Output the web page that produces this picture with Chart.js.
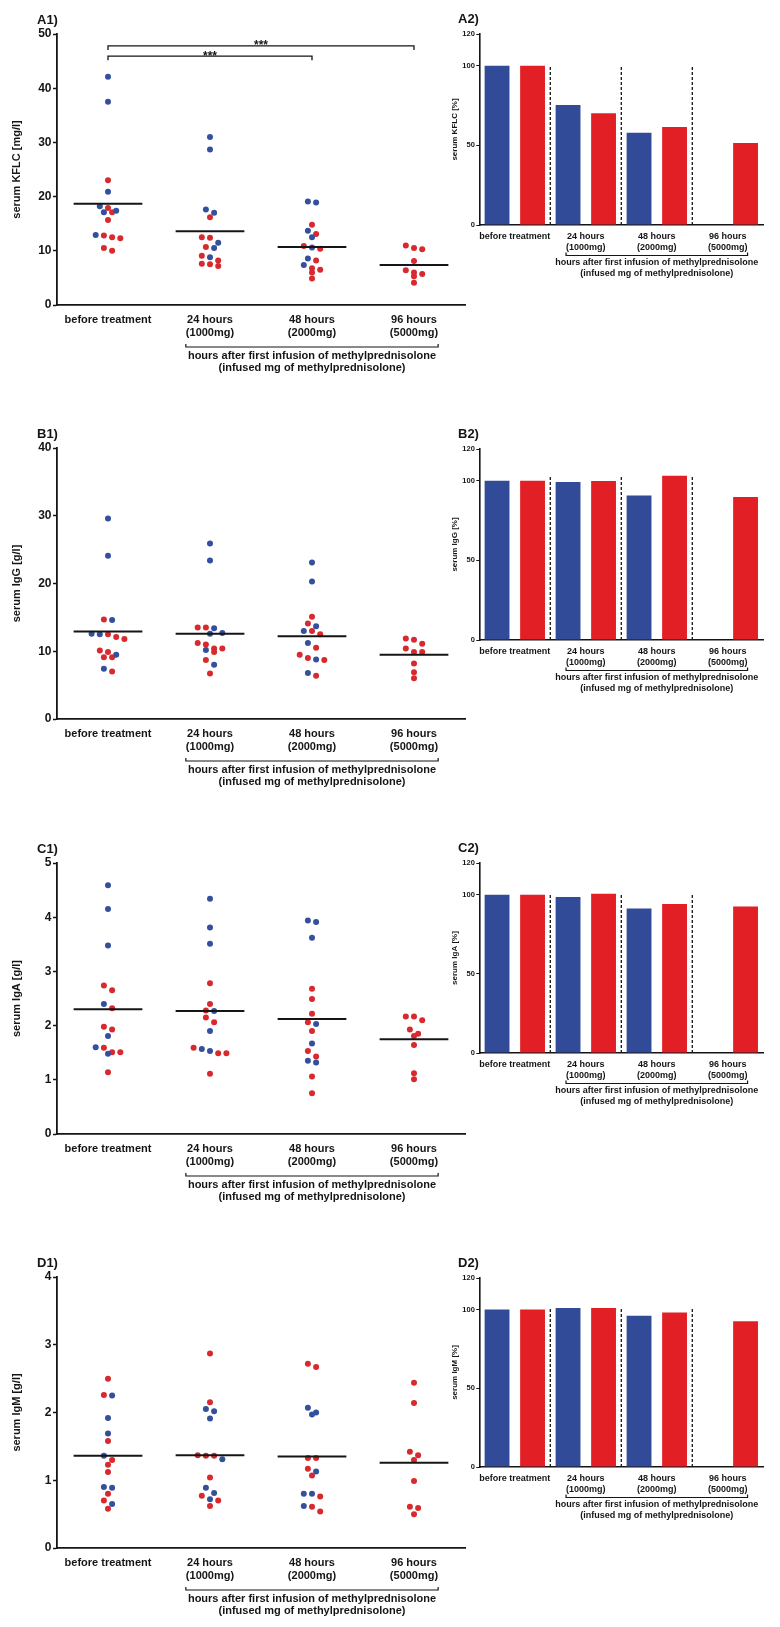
<!DOCTYPE html>
<html><head><meta charset="utf-8">
<script src="https://cdn.jsdelivr.net/npm/chart.js@4.4.0/dist/chart.umd.min.js"></script>
<style>
html,body{margin:0;padding:0;background:#fff;width:780px;height:1627px;overflow:hidden;position:relative}
canvas{position:absolute}
</style></head><body>
<script>
// ---------- DATA ----------
const categories = [['before treatment'], ['24 hours', '(1000mg)'], ['48 hours', '(2000mg)'], ['96 hours', '(5000mg)']];
const groupLine1 = 'hours after first infusion of methylprednisolone';
const groupLine2 = '(infused mg of methylprednisolone)';

// serum KFLC [mg/l]
const kflcBlue = [[42.1, 37.5, 20.9, 18.2, 17.4, 17.1, 12.9], [31.0, 28.7, 17.6, 17.0, 11.5, 10.5, 8.8], [19.1, 18.9, 13.7, 12.5, 10.6, 8.6, 7.4], []];
const kflcRed  = [[23.0, 17.9, 17.1, 15.7, 12.8, 12.5, 12.3, 10.5, 10.0], [16.2, 12.5, 12.4, 10.7, 9.1, 8.2, 7.6, 7.5, 7.2], [14.8, 13.1, 10.9, 10.4, 8.2, 6.8, 6.5, 6.0, 4.9], [11.0, 10.5, 10.3, 8.1, 6.4, 6.0, 5.7, 5.3, 4.1]];
const kflcMean = [18.7, 13.6, 10.7, 7.4];
const kflcTicks = [0, 10, 20, 30, 40, 50];
const kflcSig = [{from: 0, to: 2, y: 45.9, text: '***'}, {from: 0, to: 3, y: 47.8, text: '***'}];

// serum IgG [g/l]
const iggBlue = [[29.6, 24.1, 14.6, 12.6, 12.5, 9.5, 7.4], [25.9, 23.4, 13.4, 12.7, 12.6, 10.2, 8.0], [23.1, 20.3, 13.7, 13.0, 11.2, 8.8, 6.8], []];
const iggRed  = [[14.7, 12.5, 12.1, 11.8, 10.1, 9.9, 9.1, 9.1, 7.0], [13.5, 13.5, 11.2, 11.0, 10.4, 10.4, 9.9, 8.7, 6.7], [15.1, 14.1, 13.0, 12.5, 10.5, 9.5, 9.0, 8.7, 6.4], [11.9, 11.7, 11.1, 10.4, 9.9, 9.9, 8.2, 6.9, 6.0]];
const iggMean = [12.9, 12.6, 12.2, 9.5];
const iggTicks = [0, 10, 20, 30, 40];

// serum IgA [g/l]
const igaBlue = [[4.59, 4.15, 3.48, 2.40, 1.81, 1.60, 1.48], [4.34, 3.81, 3.51, 2.27, 1.90, 1.57, 1.53], [3.94, 3.91, 3.62, 2.03, 1.67, 1.35, 1.32], []];
const igaRed  = [[2.74, 2.65, 2.32, 1.98, 1.93, 1.59, 1.51, 1.51, 1.14], [2.78, 2.40, 2.28, 2.15, 2.06, 1.59, 1.49, 1.49, 1.11], [2.68, 2.49, 2.22, 2.06, 1.90, 1.53, 1.43, 1.06, 0.75], [2.17, 2.17, 2.10, 1.93, 1.85, 1.81, 1.64, 1.12, 1.01]];
const igaMean = [2.30, 2.27, 2.12, 1.75];
const igaTicks = [0, 1, 2, 3, 4, 5];

// serum IgM [g/l]
const igmBlue = [[2.25, 1.92, 1.69, 1.36, 0.90, 0.89, 0.65], [2.05, 2.02, 1.91, 1.31, 0.89, 0.81, 0.72], [2.07, 2.00, 1.97, 1.13, 0.80, 0.80, 0.62], []];
const igmRed  = [[2.50, 2.26, 1.58, 1.30, 1.23, 1.12, 0.80, 0.70, 0.58], [2.87, 2.15, 1.37, 1.36, 1.36, 1.04, 0.77, 0.70, 0.62], [2.72, 2.67, 1.33, 1.33, 1.17, 1.07, 0.76, 0.61, 0.54], [2.44, 2.14, 1.42, 1.37, 1.30, 0.99, 0.61, 0.59, 0.50]];
const igmMean = [1.36, 1.37, 1.35, 1.26];
const igmTicks = [0, 1, 2, 3, 4];

// percentage of baseline
const kflcPctBlue = [100, 75.4, 58.0, null];
const kflcPctRed  = [100, 70.2, 61.6, 51.5];
const iggPctBlue  = [100, 99.2, 90.8, null];
const iggPctRed   = [100, 99.9, 103.2, 89.8];
const igaPctBlue  = [100, 98.5, 91.2, null];
const igaPctRed   = [100, 100.6, 94.1, 92.6];
const igmPctBlue  = [100, 101.0, 96.0, null];
const igmPctRed   = [100, 101.0, 98.1, 92.6];
const pctTicks = [0, 50, 100, 120];

// ---------- STYLE / LAYOUT ----------
const FONT = "'Liberation Sans', Arial, Helvetica, sans-serif";
const BLUE_DOT = '#34509d', RED_DOT = '#d8292f';
const BLUE_BAR = '#324b99', RED_BAR = '#e31f26';
const INK = '#151515';
Chart.defaults.font.family = FONT;
Chart.defaults.color = INK;

const scatterPanels = [
  {label: 'A1)', title: 'serum KFLC [mg/l]', blue: kflcBlue, red: kflcRed, mean: kflcMean, ticks: kflcTicks, sig: kflcSig, top: 34, bottom: 305},
  {label: 'B1)', title: 'serum IgG [g/l]', blue: iggBlue, red: iggRed, mean: iggMean, ticks: iggTicks, sig: [], top: 448, bottom: 719},
  {label: 'C1)', title: 'serum IgA [g/l]', blue: igaBlue, red: igaRed, mean: igaMean, ticks: igaTicks, sig: [], top: 863, bottom: 1134},
  {label: 'D1)', title: 'serum IgM [g/l]', blue: igmBlue, red: igmRed, mean: igmMean, ticks: igmTicks, sig: [], top: 1277, bottom: 1548}
];
const barPanels = [
  {label: 'A2)', title: 'serum KFLC [%]', blue: kflcPctBlue, red: kflcPctRed, top: 34, bottom: 225},
  {label: 'B2)', title: 'serum IgG [%]', blue: iggPctBlue, red: iggPctRed, top: 449, bottom: 640},
  {label: 'C2)', title: 'serum IgA [%]', blue: igaPctBlue, red: igaPctRed, top: 863, bottom: 1053},
  {label: 'D2)', title: 'serum IgM [%]', blue: igmPctBlue, red: igmPctRed, top: 1278, bottom: 1467}
];

// ---------- DECORATION PLUGIN ----------
const decoPlugin = {
  id: 'deco',
  afterDraw(chart, args, o) {
    const ctx = chart.ctx, xs = chart.scales.x, ys = chart.scales.y, ca = chart.chartArea;
    ctx.save();
    ctx.fillStyle = INK; ctx.strokeStyle = INK;
    // panel label
    ctx.font = 'bold 13px ' + FONT; ctx.textAlign = 'left'; ctx.textBaseline = 'middle';
    ctx.fillText(o.label, o.labelX, ca.top - o.labelDy);
    // y title
    ctx.save();
    ctx.translate(o.titleX, (ca.top + ca.bottom) / 2); ctx.rotate(-Math.PI / 2);
    ctx.font = o.titleFont; ctx.textAlign = 'center'; ctx.textBaseline = 'middle';
    ctx.fillText(o.title, 0, 0);
    ctx.restore();
    // mean lines
    if (o.means) {
      ctx.lineWidth = 2;
      o.means.forEach((m, i) => {
        const y = ys.getPixelForValue(m);
        ctx.beginPath(); ctx.moveTo(xs.getPixelForValue(i - 0.337), y); ctx.lineTo(xs.getPixelForValue(i + 0.337), y); ctx.stroke();
      });
    }
    // dashed separators between groups
    if (o.sepTop) {
      ctx.save(); ctx.setLineDash([3, 2]); ctx.lineWidth = 1.3;
      for (let i = 1; i < categories.length; i++) {
        const x = (xs.getPixelForValue(i - 1) + xs.getPixelForValue(i)) / 2;
        ctx.beginPath(); ctx.moveTo(x, ys.getPixelForValue(0)); ctx.lineTo(x, ys.getPixelForValue(o.sepTop)); ctx.stroke();
      }
      ctx.restore();
    }
    // significance brackets
    (o.sig || []).forEach(s => {
      const x1 = xs.getPixelForValue(s.from), x2 = xs.getPixelForValue(s.to), y = ys.getPixelForValue(s.y);
      ctx.lineWidth = 1.3;
      ctx.beginPath(); ctx.moveTo(x1, y + 4); ctx.lineTo(x1, y); ctx.lineTo(x2, y); ctx.lineTo(x2, y + 4); ctx.stroke();
      ctx.font = 'bold 12px ' + FONT; ctx.textAlign = 'center'; ctx.textBaseline = 'alphabetic';
      ctx.fillText(s.text, (x1 + x2) / 2, y + 3.4);
    });
    // group bracket under 24/48/96 h
    ctx.font = o.catFont;
    const x1 = xs.getPixelForValue(1) - ctx.measureText(categories[1][1]).width / 2;
    const x3 = xs.getPixelForValue(3) + ctx.measureText(categories[3][1]).width / 2;
    const by = ca.bottom + o.bracketDy;
    ctx.lineWidth = 1.2;
    ctx.beginPath(); ctx.moveTo(x1, by - 3); ctx.lineTo(x1, by); ctx.lineTo(x3, by); ctx.lineTo(x3, by - 3); ctx.stroke();
    ctx.textAlign = 'center'; ctx.textBaseline = 'middle';
    ctx.fillText(groupLine1, (x1 + x3) / 2, ca.bottom + o.line1Dy);
    ctx.fillText(groupLine2, (x1 + x3) / 2, ca.bottom + o.line2Dy);
    ctx.restore();
  }
};

// ---------- BEESWARM (computed from values via the chart scales) ----------
function applySwarm(chart, blue, red) {
  const xs = chart.scales.x, ys = chart.scales.y;
  const pxPerCat = xs.getPixelForValue(1) - xs.getPixelForValue(0);
  const stepPx = 8.2, binPx = 5.5;
  const blueOut = [], redOut = [];
  for (let i = 0; i < categories.length; i++) {
    const pts = blue[i].map(v => ({v, c: 0})).concat(red[i].map(v => ({v, c: 1})));
    pts.sort((a, b) => b.v - a.v);
    const rows = []; let cur = null;
    for (const p of pts) {
      const py = ys.getPixelForValue(p.v);
      if (cur && py - cur.y0 < binPx) cur.items.push(p);
      else { cur = {y0: py, items: [p]}; rows.push(cur); }
    }
    rows.forEach(r => {
      const n = r.items.length;
      r.items.forEach((p, k) => {
        const off = (k - (n - 1) / 2) * stepPx / pxPerCat;
        (p.c ? redOut : blueOut).push({x: i + off, y: p.v});
      });
    });
  }
  chart.data.datasets[0].data = blueOut;
  chart.data.datasets[1].data = redOut;
  chart.update('none');
}

function makeCanvas(left, top, w, h) {
  const cv = document.createElement('canvas');
  cv.width = w; cv.height = h;
  cv.style.left = left + 'px'; cv.style.top = top + 'px';
  cv.style.width = w + 'px'; cv.style.height = h + 'px';
  document.body.appendChild(cv);
  return cv;
}

// ---------- SCATTER PANELS ----------
scatterPanels.forEach(p => {
  const W = 470, H = 400, PADTOP = 34;
  const cv = makeCanvas(0, p.top - PADTOP, W, H);
  const plotH = p.bottom - p.top;
  const xAxisH = H - PADTOP - plotH;
  const tickMax = p.ticks[p.ticks.length - 1];
  const toPts = arr => arr.flatMap((g, i) => g.map(v => ({x: i, y: v})));
  const chart = new Chart(cv, {
    type: 'scatter',
    data: {datasets: [
      {data: toPts(p.blue), backgroundColor: BLUE_DOT, pointRadius: 3, pointHoverRadius: 3, pointBorderWidth: 0},
      {data: toPts(p.red), backgroundColor: RED_DOT, pointRadius: 3, pointHoverRadius: 3, pointBorderWidth: 0}
    ]},
    options: {
      responsive: false, animation: false, events: [],
      layout: {padding: {top: PADTOP, right: 5, left: 0, bottom: 0}},
      plugins: {
        legend: {display: false}, tooltip: {enabled: false},
        deco: {label: p.label, labelX: 37, labelDy: 14, title: p.title, titleX: 17, titleFont: 'bold 11px ' + FONT,
               means: p.mean, sig: p.sig, catFont: 'bold 11px ' + FONT, bracketDy: 42, line1Dy: 50.5, line2Dy: 63}
      },
      scales: {
        x: {
          type: 'linear', min: -0.5, max: 3.5,
          afterBuildTicks: s => { s.ticks = categories.map((c, i) => ({value: i})); },
          afterFit: s => { s.height = xAxisH; },
          grid: {display: false, drawTicks: false},
          border: {display: true, color: INK, width: 1.8},
          ticks: {padding: 8.4, color: INK, maxRotation: 0, minRotation: 0, autoSkip: false,
                  font: {size: 11, weight: 'bold', lineHeight: 1.2}, callback: v => categories[v]}
        },
        y: {
          min: 0, max: tickMax,
          afterBuildTicks: s => { s.ticks = p.ticks.map(v => ({value: v})); },
          afterFit: s => { s.width = 57; },
          grid: {drawOnChartArea: false, drawTicks: true, tickLength: 4, tickWidth: 1.5, tickColor: INK},
          border: {display: true, color: INK, width: 1.8},
          ticks: {padding: 1.5, color: INK, font: {size: 12, weight: 'bold'}}
        }
      }
    },
    plugins: [decoPlugin]
  });
  applySwarm(chart, p.blue, p.red);
});

// ---------- BAR PANELS ----------
barPanels.forEach(p => {
  const W = 330, H = 300, PADTOP = 34, LEFT = 450;
  const cv = makeCanvas(LEFT, p.top - PADTOP, W, H);
  const plotH = p.bottom - p.top;
  const xAxisH = H - PADTOP - plotH;
  const sepTop = Math.max(...p.blue.filter(v => v != null), ...p.red.filter(v => v != null));
  new Chart(cv, {
    type: 'bar',
    data: {labels: categories, datasets: [
      {data: p.blue, backgroundColor: BLUE_BAR, borderWidth: 0, categoryPercentage: 1, barPercentage: 0.7},
      {data: p.red, backgroundColor: RED_BAR, borderWidth: 0, categoryPercentage: 1, barPercentage: 0.7}
    ]},
    options: {
      responsive: false, animation: false, events: [],
      layout: {padding: {top: PADTOP, right: 16.7, left: 0, bottom: 0}},
      plugins: {
        legend: {display: false}, tooltip: {enabled: false},
        deco: {label: p.label, labelX: 8, labelDy: 14.5, title: p.title, titleX: 4.5, titleFont: 'bold 8px ' + FONT,
               sepTop: sepTop, catFont: 'bold 9px ' + FONT, bracketDy: 30.5, line1Dy: 37.8, line2Dy: 49}
      },
      scales: {
        x: {
          afterFit: s => { s.height = xAxisH; },
          grid: {display: false, drawTicks: false},
          border: {display: true, color: INK, width: 1.6},
          ticks: {padding: 6, color: INK, maxRotation: 0, minRotation: 0, autoSkip: false,
                  font: {size: 9, weight: 'bold', lineHeight: 1.22}}
        },
        y: {
          min: 0, max: 120,
          afterBuildTicks: s => { s.ticks = pctTicks.map(v => ({value: v})); },
          afterFit: s => { s.width = 29.3; },
          grid: {drawOnChartArea: false, drawTicks: true, tickLength: 3, tickWidth: 1, tickColor: INK},
          border: {display: true, color: INK, width: 1.6},
          ticks: {padding: 1.5, color: INK, font: {size: 7.5, weight: 'bold'}}
        }
      }
    },
    plugins: [decoPlugin]
  });
});
</script>
</body></html>
